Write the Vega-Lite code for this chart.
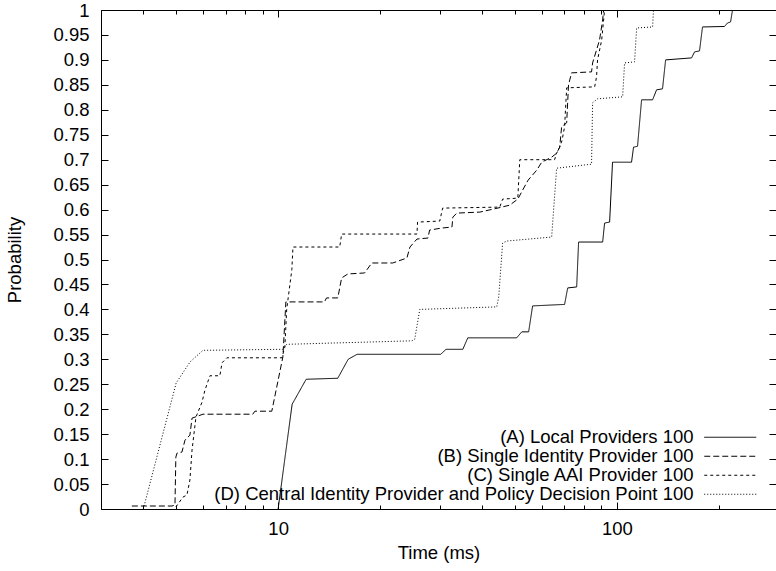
{
 "$schema": "https://vega.github.io/schema/vega-lite/v6.json",
 "width": 675,
 "height": 499,
 "autosize": "none",
 "padding": {"left": 101, "top": 10, "right": 0, "bottom": 62},
 "background": "white",
 "config": {
  "view": {"stroke": "black", "strokeWidth": 1},
  "font": "Liberation Sans",
  "axis": {"labelFont": "Liberation Sans", "titleFont": "Liberation Sans", "labelFontSize": 18.5, "titleFontSize": 18.5, "labelColor": "black", "titleColor": "black", "tickColor": "black", "titleFontWeight": "normal", "domain": false, "grid": false}
 },
 "data": {"values": [
  {"series": "(A) Local Providers 100", "t": 10.0, "p": 0},
  {"series": "(A) Local Providers 100", "t": 11.0, "p": 0.21},
  {"series": "(A) Local Providers 100", "t": 12.1, "p": 0.26},
  {"series": "(A) Local Providers 100", "t": 15.0, "p": 0.262},
  {"series": "(A) Local Providers 100", "t": 16.1, "p": 0.30},
  {"series": "(A) Local Providers 100", "t": 17.1, "p": 0.31},
  {"series": "(A) Local Providers 100", "t": 30.2, "p": 0.31},
  {"series": "(A) Local Providers 100", "t": 31.3, "p": 0.32},
  {"series": "(A) Local Providers 100", "t": 35.1, "p": 0.32},
  {"series": "(A) Local Providers 100", "t": 36.3, "p": 0.343},
  {"series": "(A) Local Providers 100", "t": 50.6, "p": 0.343},
  {"series": "(A) Local Providers 100", "t": 52.4, "p": 0.355},
  {"series": "(A) Local Providers 100", "t": 54.9, "p": 0.355},
  {"series": "(A) Local Providers 100", "t": 56.4, "p": 0.407},
  {"series": "(A) Local Providers 100", "t": 70.1, "p": 0.41},
  {"series": "(A) Local Providers 100", "t": 71.6, "p": 0.443},
  {"series": "(A) Local Providers 100", "t": 76.1, "p": 0.445},
  {"series": "(A) Local Providers 100", "t": 77.1, "p": 0.535},
  {"series": "(A) Local Providers 100", "t": 90.8, "p": 0.535},
  {"series": "(A) Local Providers 100", "t": 92.0, "p": 0.573},
  {"series": "(A) Local Providers 100", "t": 95.2, "p": 0.575},
  {"series": "(A) Local Providers 100", "t": 97.1, "p": 0.695},
  {"series": "(A) Local Providers 100", "t": 110.5, "p": 0.695},
  {"series": "(A) Local Providers 100", "t": 112.0, "p": 0.725},
  {"series": "(A) Local Providers 100", "t": 115.1, "p": 0.727},
  {"series": "(A) Local Providers 100", "t": 118.3, "p": 0.82},
  {"series": "(A) Local Providers 100", "t": 127.5, "p": 0.82},
  {"series": "(A) Local Providers 100", "t": 131.0, "p": 0.84},
  {"series": "(A) Local Providers 100", "t": 136.4, "p": 0.842},
  {"series": "(A) Local Providers 100", "t": 139.3, "p": 0.90},
  {"series": "(A) Local Providers 100", "t": 166.2, "p": 0.904},
  {"series": "(A) Local Providers 100", "t": 169.6, "p": 0.916},
  {"series": "(A) Local Providers 100", "t": 175.4, "p": 0.918},
  {"series": "(A) Local Providers 100", "t": 179.0, "p": 0.966},
  {"series": "(A) Local Providers 100", "t": 207.9, "p": 0.967},
  {"series": "(A) Local Providers 100", "t": 212.2, "p": 0.974},
  {"series": "(A) Local Providers 100", "t": 216.6, "p": 0.976},
  {"series": "(A) Local Providers 100", "t": 219.5, "p": 1.0},
  {"series": "(B) Single Identity Provider 100", "t": 3.70, "p": 0.006},
  {"series": "(B) Single Identity Provider 100", "t": 4.86, "p": 0.006},
  {"series": "(B) Single Identity Provider 100", "t": 4.96, "p": 0.008},
  {"series": "(B) Single Identity Provider 100", "t": 4.99, "p": 0.104},
  {"series": "(B) Single Identity Provider 100", "t": 5.03, "p": 0.112},
  {"series": "(B) Single Identity Provider 100", "t": 5.20, "p": 0.114},
  {"series": "(B) Single Identity Provider 100", "t": 5.31, "p": 0.138},
  {"series": "(B) Single Identity Provider 100", "t": 5.49, "p": 0.148},
  {"series": "(B) Single Identity Provider 100", "t": 5.57, "p": 0.182},
  {"series": "(B) Single Identity Provider 100", "t": 6.00, "p": 0.19},
  {"series": "(B) Single Identity Provider 100", "t": 8.42, "p": 0.19},
  {"series": "(B) Single Identity Provider 100", "t": 8.54, "p": 0.196},
  {"series": "(B) Single Identity Provider 100", "t": 9.58, "p": 0.196},
  {"series": "(B) Single Identity Provider 100", "t": 10.33, "p": 0.305},
  {"series": "(B) Single Identity Provider 100", "t": 10.54, "p": 0.415},
  {"series": "(B) Single Identity Provider 100", "t": 13.7, "p": 0.415},
  {"series": "(B) Single Identity Provider 100", "t": 13.9, "p": 0.423},
  {"series": "(B) Single Identity Provider 100", "t": 15.0, "p": 0.423},
  {"series": "(B) Single Identity Provider 100", "t": 15.4, "p": 0.463},
  {"series": "(B) Single Identity Provider 100", "t": 16.06, "p": 0.471},
  {"series": "(B) Single Identity Provider 100", "t": 18.0, "p": 0.473},
  {"series": "(B) Single Identity Provider 100", "t": 18.9, "p": 0.493},
  {"series": "(B) Single Identity Provider 100", "t": 21.8, "p": 0.493},
  {"series": "(B) Single Identity Provider 100", "t": 24.0, "p": 0.503},
  {"series": "(B) Single Identity Provider 100", "t": 24.5, "p": 0.525},
  {"series": "(B) Single Identity Provider 100", "t": 25.7, "p": 0.541},
  {"series": "(B) Single Identity Provider 100", "t": 27.7, "p": 0.543},
  {"series": "(B) Single Identity Provider 100", "t": 28.0, "p": 0.559},
  {"series": "(B) Single Identity Provider 100", "t": 30.4, "p": 0.563},
  {"series": "(B) Single Identity Provider 100", "t": 32.6, "p": 0.565},
  {"series": "(B) Single Identity Provider 100", "t": 32.8, "p": 0.585},
  {"series": "(B) Single Identity Provider 100", "t": 33.7, "p": 0.593},
  {"series": "(B) Single Identity Provider 100", "t": 39.4, "p": 0.595},
  {"series": "(B) Single Identity Provider 100", "t": 44.5, "p": 0.603},
  {"series": "(B) Single Identity Provider 100", "t": 48.3, "p": 0.609},
  {"series": "(B) Single Identity Provider 100", "t": 51.0, "p": 0.621},
  {"series": "(B) Single Identity Provider 100", "t": 52.7, "p": 0.639},
  {"series": "(B) Single Identity Provider 100", "t": 54.7, "p": 0.659},
  {"series": "(B) Single Identity Provider 100", "t": 58.0, "p": 0.679},
  {"series": "(B) Single Identity Provider 100", "t": 60.0, "p": 0.695},
  {"series": "(B) Single Identity Provider 100", "t": 64.2, "p": 0.705},
  {"series": "(B) Single Identity Provider 100", "t": 66.4, "p": 0.713},
  {"series": "(B) Single Identity Provider 100", "t": 67.8, "p": 0.725},
  {"series": "(B) Single Identity Provider 100", "t": 68.7, "p": 0.766},
  {"series": "(B) Single Identity Provider 100", "t": 71.1, "p": 0.774},
  {"series": "(B) Single Identity Provider 100", "t": 72.0, "p": 0.85},
  {"series": "(B) Single Identity Provider 100", "t": 73.5, "p": 0.874},
  {"series": "(B) Single Identity Provider 100", "t": 84.2, "p": 0.876},
  {"series": "(B) Single Identity Provider 100", "t": 84.8, "p": 0.894},
  {"series": "(B) Single Identity Provider 100", "t": 87.1, "p": 0.92},
  {"series": "(B) Single Identity Provider 100", "t": 88.9, "p": 0.94},
  {"series": "(B) Single Identity Provider 100", "t": 90.8, "p": 0.98},
  {"series": "(B) Single Identity Provider 100", "t": 91.4, "p": 1.0},
  {"series": "(C) Single AAI Provider 100", "t": 4.99, "p": 0.004},
  {"series": "(C) Single AAI Provider 100", "t": 5.24, "p": 0.024},
  {"series": "(C) Single AAI Provider 100", "t": 5.38, "p": 0.028},
  {"series": "(C) Single AAI Provider 100", "t": 5.49, "p": 0.058},
  {"series": "(C) Single AAI Provider 100", "t": 5.57, "p": 0.118},
  {"series": "(C) Single AAI Provider 100", "t": 5.72, "p": 0.184},
  {"series": "(C) Single AAI Provider 100", "t": 5.96, "p": 0.214},
  {"series": "(C) Single AAI Provider 100", "t": 6.08, "p": 0.238},
  {"series": "(C) Single AAI Provider 100", "t": 6.29, "p": 0.267},
  {"series": "(C) Single AAI Provider 100", "t": 6.73, "p": 0.267},
  {"series": "(C) Single AAI Provider 100", "t": 6.83, "p": 0.293},
  {"series": "(C) Single AAI Provider 100", "t": 7.06, "p": 0.303},
  {"series": "(C) Single AAI Provider 100", "t": 10.26, "p": 0.303},
  {"series": "(C) Single AAI Provider 100", "t": 10.47, "p": 0.325},
  {"series": "(C) Single AAI Provider 100", "t": 10.6, "p": 0.40},
  {"series": "(C) Single AAI Provider 100", "t": 10.98, "p": 0.48},
  {"series": "(C) Single AAI Provider 100", "t": 11.06, "p": 0.525},
  {"series": "(C) Single AAI Provider 100", "t": 15.2, "p": 0.525},
  {"series": "(C) Single AAI Provider 100", "t": 15.4, "p": 0.551},
  {"series": "(C) Single AAI Provider 100", "t": 25.7, "p": 0.551},
  {"series": "(C) Single AAI Provider 100", "t": 25.8, "p": 0.575},
  {"series": "(C) Single AAI Provider 100", "t": 30.0, "p": 0.577},
  {"series": "(C) Single AAI Provider 100", "t": 30.6, "p": 0.603},
  {"series": "(C) Single AAI Provider 100", "t": 45.1, "p": 0.605},
  {"series": "(C) Single AAI Provider 100", "t": 46.0, "p": 0.621},
  {"series": "(C) Single AAI Provider 100", "t": 51.0, "p": 0.623},
  {"series": "(C) Single AAI Provider 100", "t": 51.7, "p": 0.70},
  {"series": "(C) Single AAI Provider 100", "t": 65.5, "p": 0.70},
  {"series": "(C) Single AAI Provider 100", "t": 66.4, "p": 0.713},
  {"series": "(C) Single AAI Provider 100", "t": 67.8, "p": 0.725},
  {"series": "(C) Single AAI Provider 100", "t": 68.9, "p": 0.739},
  {"series": "(C) Single AAI Provider 100", "t": 70.1, "p": 0.766},
  {"series": "(C) Single AAI Provider 100", "t": 71.1, "p": 0.844},
  {"series": "(C) Single AAI Provider 100", "t": 86.0, "p": 0.846},
  {"series": "(C) Single AAI Provider 100", "t": 87.1, "p": 0.866},
  {"series": "(C) Single AAI Provider 100", "t": 87.7, "p": 0.90},
  {"series": "(C) Single AAI Provider 100", "t": 90.2, "p": 0.94},
  {"series": "(C) Single AAI Provider 100", "t": 92.0, "p": 1.0},
  {"series": "(D) Central Identity Provider and Policy Decision Point 100", "t": 4.0, "p": 0.0},
  {"series": "(D) Central Identity Provider and Policy Decision Point 100", "t": 5.0, "p": 0.2525},
  {"series": "(D) Central Identity Provider and Policy Decision Point 100", "t": 5.5, "p": 0.295},
  {"series": "(D) Central Identity Provider and Policy Decision Point 100", "t": 6.0, "p": 0.318},
  {"series": "(D) Central Identity Provider and Policy Decision Point 100", "t": 10.3, "p": 0.32},
  {"series": "(D) Central Identity Provider and Policy Decision Point 100", "t": 10.6, "p": 0.33},
  {"series": "(D) Central Identity Provider and Policy Decision Point 100", "t": 24.8, "p": 0.337},
  {"series": "(D) Central Identity Provider and Policy Decision Point 100", "t": 25.3, "p": 0.34},
  {"series": "(D) Central Identity Provider and Policy Decision Point 100", "t": 26.2, "p": 0.40},
  {"series": "(D) Central Identity Provider and Policy Decision Point 100", "t": 44.2, "p": 0.405},
  {"series": "(D) Central Identity Provider and Policy Decision Point 100", "t": 44.8, "p": 0.425},
  {"series": "(D) Central Identity Provider and Policy Decision Point 100", "t": 46.0, "p": 0.533},
  {"series": "(D) Central Identity Provider and Policy Decision Point 100", "t": 47.3, "p": 0.537},
  {"series": "(D) Central Identity Provider and Policy Decision Point 100", "t": 64.2, "p": 0.545},
  {"series": "(D) Central Identity Provider and Policy Decision Point 100", "t": 66.4, "p": 0.683},
  {"series": "(D) Central Identity Provider and Policy Decision Point 100", "t": 84.2, "p": 0.691},
  {"series": "(D) Central Identity Provider and Policy Decision Point 100", "t": 84.8, "p": 0.814},
  {"series": "(D) Central Identity Provider and Policy Decision Point 100", "t": 87.7, "p": 0.822},
  {"series": "(D) Central Identity Provider and Policy Decision Point 100", "t": 104.0, "p": 0.826},
  {"series": "(D) Central Identity Provider and Policy Decision Point 100", "t": 105.4, "p": 0.894},
  {"series": "(D) Central Identity Provider and Policy Decision Point 100", "t": 112.8, "p": 0.896},
  {"series": "(D) Central Identity Provider and Policy Decision Point 100", "t": 114.4, "p": 0.964},
  {"series": "(D) Central Identity Provider and Policy Decision Point 100", "t": 127.5, "p": 0.966},
  {"series": "(D) Central Identity Provider and Policy Decision Point 100", "t": 128.3, "p": 1.0}
 ]},
 "layer": [
  {
   "mark": {"type": "line", "color": "black", "strokeWidth": 1, "clip": true},
   "encoding": {
    "x": {"field": "t", "type": "quantitative", "scale": {"type": "log", "domain": [3, 295]},
          "axis": {"orient": "bottom", "values": [10, 100], "format": "d", "tickSize": -7, "labelPadding": 17, "title": "Time (ms)", "titlePadding": 6}},
    "y": {"field": "p", "type": "quantitative", "scale": {"domain": [0, 1]},
          "axis": {"orient": "left", "values": [0, 0.05, 0.1, 0.15, 0.2, 0.25, 0.3, 0.35, 0.4, 0.45, 0.5, 0.55, 0.6, 0.65, 0.7, 0.75, 0.8, 0.85, 0.9, 0.95, 1], "format": "~g", "tickSize": -7, "labelPadding": 19, "title": "Probability", "titlePadding": 28}},
    "strokeDash": {"field": "series", "type": "nominal",
          "scale": {"domain": ["(A) Local Providers 100", "(B) Single Identity Provider 100", "(C) Single AAI Provider 100", "(D) Central Identity Provider and Policy Decision Point 100"], "range": [[1, 0], [6, 3], [3, 3], [1, 2]]},
          "legend": {"orient": "none", "legendX": 620, "legendY": 418, "title": null, "padding": 0, "direction": "vertical", "symbolType": "M-13,0H13", "symbolSize": 16, "symbolStrokeWidth": 1, "symbolStrokeColor": "black", "symbolFillColor": "transparent", "labelAlign": "right", "labelOffset": -46, "labelLimit": 1000, "labelFontSize": 18.5, "labelFont": "Liberation Sans", "labelColor": "black", "rowPadding": -1}}
   }
  },
  {
   "mark": {"type": "point", "opacity": 0},
   "encoding": {
    "x": {"field": "t", "type": "quantitative", "scale": {"type": "log", "domain": [3, 295]},
          "axis": {"orient": "bottom", "values": [3, 4, 5, 6, 7, 8, 9, 20, 30, 40, 50, 60, 70, 80, 90, 200], "tickSize": -4, "labels": false, "title": null}},
    "y": {"field": "p", "type": "quantitative", "scale": {"domain": [0, 1]},
          "axis": {"orient": "right", "values": [0, 0.05, 0.1, 0.15, 0.2, 0.25, 0.3, 0.35, 0.4, 0.45, 0.5, 0.55, 0.6, 0.65, 0.7, 0.75, 0.8, 0.85, 0.9, 0.95, 1], "tickSize": -7, "labels": false, "title": null}}
   }
  },
  {
   "mark": {"type": "point", "opacity": 0},
   "encoding": {
    "x": {"field": "t", "type": "quantitative", "scale": {"type": "log", "domain": [3, 295]},
          "axis": {"orient": "top", "values": [10, 100], "tickSize": -7, "labels": false, "title": null}},
    "y": {"field": "p", "type": "quantitative", "scale": {"domain": [0, 1]}, "axis": null}
   }
  },
  {
   "mark": {"type": "point", "opacity": 0},
   "encoding": {
    "x": {"field": "t", "type": "quantitative", "scale": {"type": "log", "domain": [3, 295]},
          "axis": {"orient": "top", "values": [3, 4, 5, 6, 7, 8, 9, 20, 30, 40, 50, 60, 70, 80, 90, 200], "tickSize": -4, "labels": false, "title": null}},
    "y": {"field": "p", "type": "quantitative", "scale": {"domain": [0, 1]}, "axis": null}
   }
  }
 ],
 "resolve": {"axis": {"x": "independent", "y": "independent"}}
}
